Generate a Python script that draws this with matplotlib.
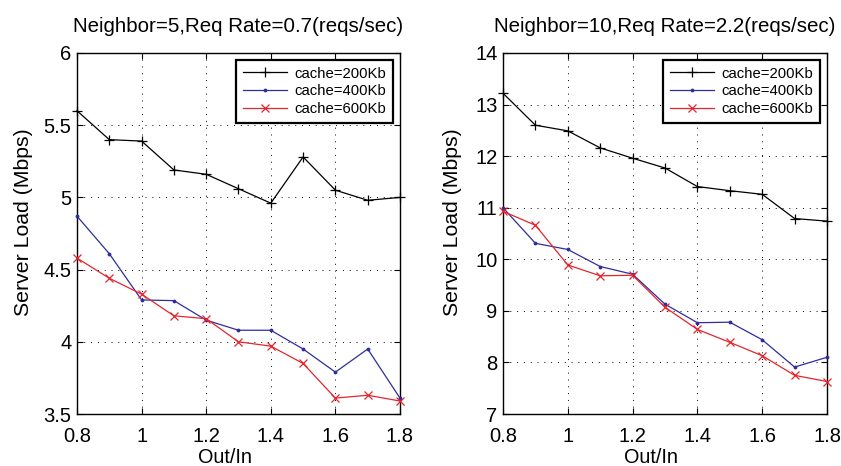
import matplotlib
matplotlib.use("Agg")
import matplotlib.pyplot as plt

plt.rcParams['font.family'] = ['Liberation Sans', 'DejaVu Sans']

x = [0.8, 0.9, 1.0, 1.1, 1.2, 1.3, 1.4, 1.5, 1.6, 1.7, 1.8]
labels = ['cache=200Kb', 'cache=400Kb', 'cache=600Kb']

left_200 = [5.60, 5.40, 5.39, 5.19, 5.16, 5.06, 4.96, 5.28, 5.05, 4.98, 5.00]
left_400 = [4.87, 4.61, 4.29, 4.285, 4.15, 4.08, 4.08, 3.95, 3.79, 3.95, 3.61]
left_600 = [4.58, 4.44, 4.33, 4.18, 4.16, 4.00, 3.97, 3.85, 3.61, 3.63, 3.59]

right_200 = [13.22, 12.60, 12.49, 12.16, 11.96, 11.77, 11.41, 11.33, 11.26, 10.79, 10.74]
right_400 = [11.00, 10.31, 10.19, 9.86, 9.71, 9.13, 8.77, 8.78, 8.44, 7.91, 8.10]
right_600 = [10.93, 10.66, 9.89, 9.68, 9.69, 9.07, 8.64, 8.39, 8.13, 7.75, 7.63]

titles = ['Neighbor=5,Req Rate=0.7(reqs/sec)', 'Neighbor=10,Req Rate=2.2(reqs/sec)']
left_yticks = [3.5, 4, 4.5, 5, 5.5, 6]
left_yticklabels = ['3.5', '4', '4.5', '5', '5.5', '6']
right_yticks = [7, 8, 9, 10, 11, 12, 13, 14]
xticks = [0.8, 1.0, 1.2, 1.4, 1.6, 1.8]
xticklabels = ['0.8', '1', '1.2', '1.4', '1.6', '1.8']

fig = plt.figure(figsize=(8.41, 4.66), dpi=100)
W, H = 841, 466
ax1 = fig.add_axes([77 / W, 1 - 414 / H, (400 - 77) / W, (414 - 53) / H])
ax2 = fig.add_axes([503 / W, 1 - 414 / H, (827 - 503) / W, (414 - 53) / H])

def draw(ax, s200, s400, s600, title, yticks, yticklabels, ylim, ylab_x):
    ax.plot(x, s200, color='black', marker='+', markersize=7.5, lw=0.9, mew=0.9, label=labels[0], clip_on=False, zorder=3)
    ax.plot(x, s400, color='#2e2e9c', marker='.', markersize=3.5, lw=0.9, label=labels[1], clip_on=False, zorder=3)
    ax.plot(x, s600, color='#e3262d', marker='x', markersize=5.5, lw=0.9, mew=0.9, label=labels[2], clip_on=False, zorder=3)
    ax.set_xlim(0.8, 1.8)
    ax.set_ylim(*ylim)
    ax.set_xticks(xticks)
    ax.set_xticklabels(xticklabels)
    ax.set_yticks(yticks)
    ax.set_yticklabels(yticklabels)
    ax.tick_params(direction='in', labelsize=14.5, length=4, top=True, right=True)
    ax.tick_params(axis='x', pad=9)
    ax.tick_params(axis='y', pad=4)
    ax.grid(True, color='black', linestyle=(0, (1, 6)), linewidth=0.7)
    for sp in ax.spines.values():
        sp.set_linewidth(1.0)
    ax.set_title(title, fontsize=14.8, pad=15)
    ax.set_xlabel('Out/In', fontsize=14.3)
    ax.xaxis.label.set_va('baseline')
    ax.xaxis.set_label_coords(0.457, (414 - 463) / 361)
    ax.set_ylabel('Server Load (Mbps)', fontsize=15.3)
    ax.yaxis.set_label_coords(ylab_x, 0.532)
    leg = ax.legend(loc='upper right', fontsize=10.7, frameon=True, fancybox=False,
                    borderpad=0.45, labelspacing=0.25, handlelength=2.95, handletextpad=0.54,
                    borderaxespad=0.47)
    leg.get_frame().set_edgecolor('black')
    leg.get_frame().set_linewidth(1.6)
    leg.get_frame().set_alpha(1)

draw(ax1, left_200, left_400, left_600, titles[0], left_yticks, left_yticklabels, (3.5, 6), (33 - 77) / 323)
draw(ax2, right_200, right_400, right_600, titles[1], right_yticks, [str(v) for v in right_yticks], (7, 14), (462 - 503) / 324)

fig.savefig('out.png', dpi=100)
